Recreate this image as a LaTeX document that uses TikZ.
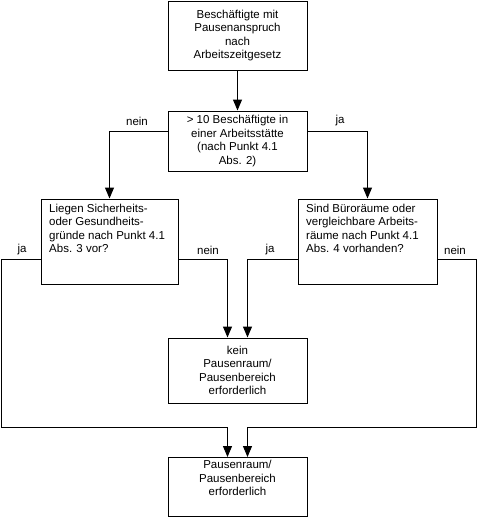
\documentclass[tikz,border=0pt]{standalone}
\usepackage{fontspec}
\setmainfont{Liberation Sans}
\usetikzlibrary{arrows.meta}
\begin{document}
\begin{tikzpicture}[x=1pt,y=-1pt,
  box/.style={draw,line width=1pt,minimum width=139pt,inner sep=0pt},
  txt/.style={font=\fontsize{11.5}{13.5}\selectfont,align=center,inner sep=0pt},
  lab/.style={font=\fontsize{11.5}{13.5}\selectfont,inner sep=0pt},
  arr/.style={line width=1pt,-{Triangle[width=9pt,length=11pt]}},
  ln/.style={line width=1pt}]
\useasboundingbox (0,0) rectangle (478,517);
\node[box,minimum height=69pt,txt] (top) at (237.5,35.5) {Beschäftigte mit\\Pausenanspruch\\nach\\Arbeitszeitgesetz};
\node[box,minimum height=60pt,txt] (q1) at (237.5,141) {> 10 Beschäftigte in\\einer Arbeitsstätte\\(nach Punkt 4.1\\Abs. 2)};
\node[box,minimum width=137pt,minimum height=85pt] (qL) at (109.5,241.5) {};
\node[txt,align=left,anchor=north west] (tL) at (49,203.5) {Liegen Sicherheits-\\oder Gesundheits-\\gründe nach Punkt 4.1\\Abs. 3 vor?};
\node[box,minimum height=85pt] (qR) at (367.5,241.5) {};
\node[txt,align=left,anchor=north west] (tR) at (306,203.5) {Sind Büroräume oder\\vergleichbare Arbeits-\\räume nach Punkt 4.1\\Abs. 4 vorhanden?};
\node[box,minimum height=65pt,txt] (mid) at (237.5,370.5) {kein\\Pausenraum/\\Pausenbereich\\erforderlich};
\node[box,minimum height=59pt,txt] (bot) at (237.5,487) {Pausenraum/\\Pausenbereich\\erforderlich\\[4pt]};
\coordinate (cL) at (1.5,427.5);
\coordinate (cR) at (476.5,427.5);
\draw[arr] (top.south) -- (q1.north);
\draw[arr] ([yshift=10pt]q1.west) -| (qL.north);
\draw[arr] ([yshift=10pt]q1.east) -| (qR.north);
\draw[arr] ([yshift=-17.5pt]qL.east) -| ([xshift=-10pt]mid.north);
\draw[arr] ([yshift=-17.5pt]qR.west) -| ([xshift=10pt]mid.north);
\draw[arr] ([yshift=-17.5pt]qL.west) -| (cL) -| ([xshift=-10pt]bot.north);
\draw[arr] ([yshift=-17.5pt]qR.east) -| (cR) -| ([xshift=10pt]bot.north);
\node[lab] (l1) at (137,121) {nein};
\node[lab] (l2) at (340,121) {ja};
\node[lab] (l3) at (22,250) {ja};
\node[lab] (l4) at (208,250) {nein};
\node[lab] (l5) at (270,250) {ja};
\node[lab] (l6) at (455,250) {nein};
\end{tikzpicture}
\end{document}
